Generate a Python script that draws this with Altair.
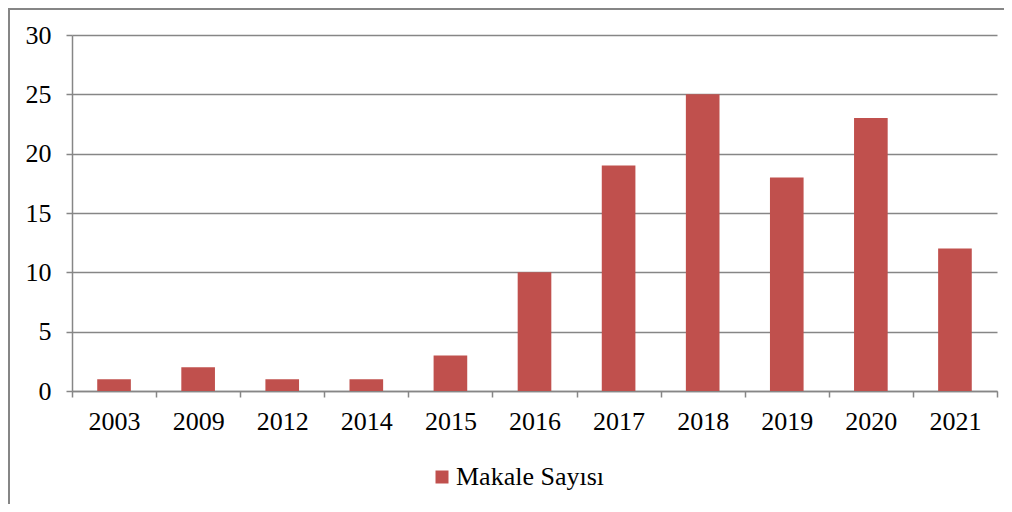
import altair as alt
import pandas as pd

years = ["2003", "2009", "2012", "2014", "2015", "2016", "2017", "2018", "2019", "2020", "2021"]
counts = [1, 2, 1, 1, 3, 10, 19, 25, 18, 23, 12]
series = "Makale Sayısı"

df = pd.DataFrame({"year": years, "count": counts, "series": [series] * len(years)})

FONT = "Liberation Serif"
GRAY = "#868686"
W, H = 925, 356

bars = alt.Chart(df).mark_bar(width=alt.RelativeBandSize(0.4)).encode(
    x=alt.X("year:N", sort=years, title=None,
            scale=alt.Scale(paddingInner=0, paddingOuter=0),
            axis=alt.Axis(labelAngle=0, tickBand="extent", domainColor=GRAY, tickColor=GRAY,
                          domainWidth=1.5, tickWidth=1.5, tickSize=6, labelPadding=11,
                          labelFontSize=26, labelColor="black", grid=False)),
    y=alt.Y("count:Q", title=None,
            scale=alt.Scale(domain=[0, 30], nice=False),
            axis=alt.Axis(values=[0, 5, 10, 15, 20, 25, 30], grid=True, gridColor=GRAY, gridWidth=1.5,
                          domainColor=GRAY, tickColor=GRAY, domainWidth=1.5, tickWidth=1.5,
                          tickSize=6, labelPadding=15, labelFontSize=26,
                          labelColor="black")),
    color=alt.Color("series:N", title=None,
                    scale=alt.Scale(range=["#C0504D"]),
                    legend=alt.Legend(orient="none", legendX=357, legendY=429,
                                      symbolType="square", symbolSize=169, symbolStrokeWidth=0,
                                      labelFontSize=26, labelColor="black",
                                      labelOffset=1)),
)

frame = alt.Chart(df).mark_rect(fill=None, stroke=GRAY, strokeWidth=2).encode(
    x=alt.value(-63), x2=alt.value(W + 100), y=alt.value(-26), y2=alt.value(H + 300)
)

chart = alt.layer(frame, bars).properties(
    width=W, height=H,
    padding={"left": 64, "top": 27, "right": 7, "bottom": 113},
    autosize=alt.AutoSizeParams(type="none"),
).configure(background="white", font=FONT).configure_view(stroke=None).configure_axis(
    labelFont=FONT
).configure_legend(labelFont=FONT)

chart.save("out.html", embed_options={"renderer": "svg", "actions": False})
